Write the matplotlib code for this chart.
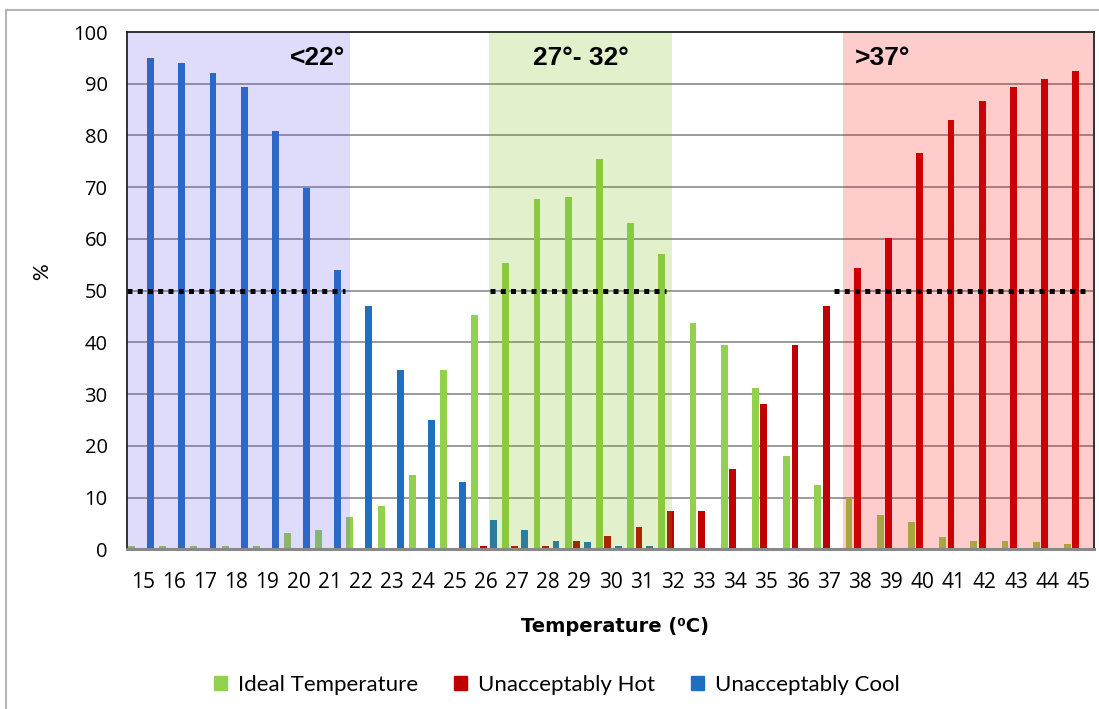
import numpy as np
import matplotlib
matplotlib.use("Agg")
import matplotlib.pyplot as plt
from matplotlib.patches import Patch
from matplotlib.lines import Line2D

temps = [str(t) for t in range(15, 46)]
ideal = [0.6, 0.6, 0.6, 0.6, 0.6, 3.1, 3.7, 6.3, 8.4, 14.4, 34.7, 45.2, 55.3, 67.8, 68.1,
         75.5, 63.1, 57.0, 43.7, 39.4, 31.1, 18.1, 12.4, 10.0, 6.7, 5.3, 2.3, 1.7, 1.7, 1.4, 1.0]
hot = [0, 0, 0, 0, 0, 0, 0, 0, 0, 0, 0, 0.6, 0.6, 0.6, 1.7,
       2.6, 4.3, 7.4, 7.4, 15.6, 28.0, 39.4, 47.0, 54.4, 60.1, 76.6, 82.9, 86.6, 89.3, 90.9, 92.4]
cool = [95.0, 94.1, 92.0, 89.3, 80.9, 69.8, 54.0, 47.0, 34.6, 24.9, 13.1, 5.7, 3.7, 1.7, 1.4,
        0.6, 0.6, 0, 0, 0, 0, 0, 0, 0, 0, 0, 0, 0, 0, 0, 0]
series_names = ["Ideal Temperature", "Unacceptably Hot", "Unacceptably Cool"]
zone_labels = ["<22°", "27°- 32°", ">37°"]

plt.rcParams['font.family'] = ['Lato', 'DejaVu Sans']

W, H = 1099, 709
fig = plt.figure(figsize=(W / 100, H / 100), dpi=100)
L, R, T, B = 127, 1094, 32, 549.3
ax = fig.add_axes([L / W, 1 - B / H, (R - L) / W, (B - T) / H])

x = np.arange(len(temps))
bw = 0.22
c_green, c_red, c_blue = "#92D050", "#C00000", "#1F6FC0"
ax.bar(x - 0.355, ideal, width=bw, color=c_green, zorder=2)
ax.bar(x - 0.085, hot, width=bw, color=c_red, zorder=2)
ax.bar(x + 0.255, cool, width=bw, color=c_blue, zorder=2)

ax.set_xlim(-0.5, len(temps) - 0.5)
ax.set_ylim(0, 100)
ax.set_yticks(range(0, 101, 10))
ax.set_xticks(x)
ax.set_xticklabels(temps)
for yv in range(10, 100, 10):
    ax.axhline(yv, color="#8a8a8a", lw=1.2, zorder=1)

# zone overlays
ax.axvspan(-0.5, 6.65, color=(0.39, 0.31, 0.90), alpha=0.2, lw=0, zorder=3)
ax.axvspan(11.1, 16.97, color=(0.43, 0.71, 0.0), alpha=0.2, lw=0, zorder=3)
ax.axvspan(22.46, 30.5, color=(1.0, 0.0, 0.0), alpha=0.2, lw=0, zorder=3)

# 50% dotted lines
for x0, x1 in [(-0.5, 6.49), (11.14, 16.78), (22.17, 30.25)]:
    ax.plot([x0, x1], [50, 50], color="black", lw=3.6, dashes=(1, 1.05),
            solid_capstyle="butt", dash_capstyle="butt", zorder=4)

zfont = dict(family=['Liberation Sans Narrow', 'Liberation Sans', 'DejaVu Sans'],
             fontsize=19, fontweight="bold", ha="center", va="center", zorder=5)
ax.text(5.62, 95.0, zone_labels[0], **zfont)
ax.text(14.06, 95.0, zone_labels[1], **zfont)
ax.text(23.71, 95.0, zone_labels[2], **zfont)

for s in ["top", "right", "left"]:
    ax.spines[s].set_color("#222222")
    ax.spines[s].set_linewidth(1.3)
ax.spines["bottom"].set_color("#888888")
ax.spines["bottom"].set_linewidth(2.2)
for sp in ax.spines.values():
    sp.set_zorder(6)

ax.tick_params(axis="y", length=0, pad=14, labelsize=14.5)
ax.tick_params(axis="x", length=0, pad=16, labelsize=15)
for lab in ax.get_xticklabels() + ax.get_yticklabels():
    lab.set_family(['Open Sans', 'DejaVu Sans'])

fig.text(615 / W, 1 - 627 / H, "Temperature (⁰C)", ha="center", va="center",
         fontsize=14, fontweight="bold", family=['DejaVu Sans'])
fig.text(42 / W, 1 - 272 / H, "%", rotation=90, ha="center", va="center", fontsize=15)

handles = [Patch(color=c_green), Patch(color=c_red), Patch(color=c_blue)]
fig.legend(handles, series_names, loc="center", bbox_to_anchor=(557 / W, 1 - 685 / H),
           ncol=3, frameon=False, fontsize=16, handlelength=0.6, handleheight=0.6,
           handletextpad=0.5, columnspacing=1.6)

# outer chart border
fig.add_artist(Line2D([6 / W, 6 / W], [0, 1 - 10 / H], color="#b5b5b5", lw=1.5))
fig.add_artist(Line2D([6 / W, 1], [1 - 10 / H, 1 - 10 / H], color="#b5b5b5", lw=1.5))

fig.savefig("out.png", dpi=100)
